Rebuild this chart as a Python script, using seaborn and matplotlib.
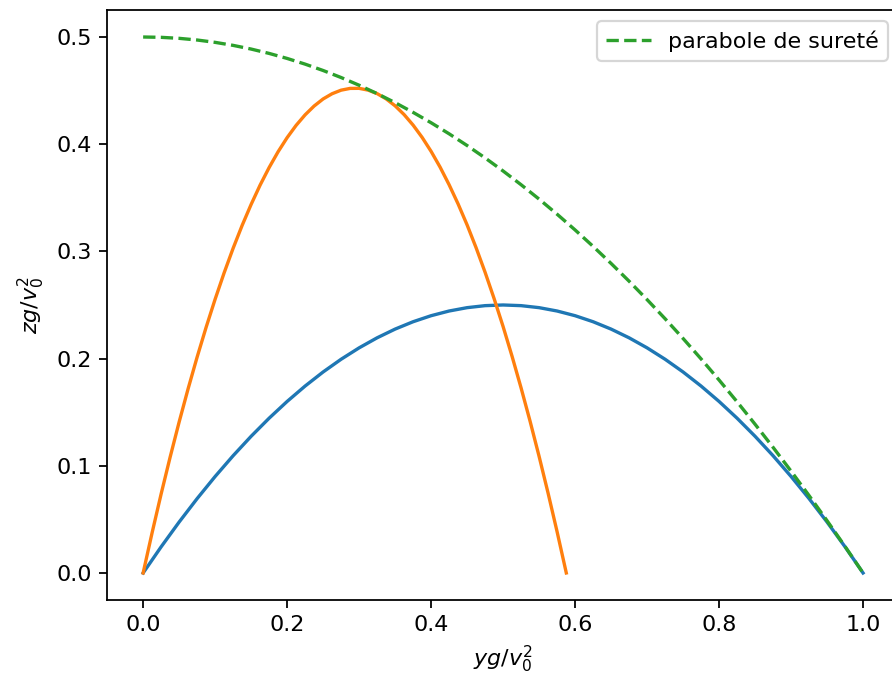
import matplotlib
matplotlib.use("Agg")
import matplotlib.pyplot as plt
import seaborn as sns

# trajectory at 45 deg
y_blue = [0.0, 0.025, 0.05, 0.075, 0.10, 0.125, 0.15, 0.175, 0.20, 0.225, 0.25,
          0.275, 0.30, 0.325, 0.35, 0.375, 0.40, 0.425, 0.45, 0.475, 0.50,
          0.525, 0.55, 0.575, 0.60, 0.625, 0.65, 0.675, 0.70, 0.725, 0.75,
          0.775, 0.80, 0.825, 0.85, 0.875, 0.90, 0.925, 0.95, 0.975, 1.0]
z_blue = [0.0, 0.024375, 0.0475, 0.069375, 0.09, 0.109375, 0.1275, 0.144375, 0.16, 0.174375, 0.1875,
          0.199375, 0.21, 0.219375, 0.2275, 0.234375, 0.24, 0.244375, 0.2475, 0.249375, 0.25,
          0.249375, 0.2475, 0.244375, 0.24, 0.234375, 0.2275, 0.219375, 0.21, 0.199375, 0.1875,
          0.174375, 0.16, 0.144375, 0.1275, 0.109375, 0.09, 0.069375, 0.0475, 0.024375, 0.0]

# steeper trajectory
y_orange = [0.0, 0.0125, 0.025, 0.0375, 0.05, 0.0625, 0.075, 0.0875, 0.10, 0.1125, 0.125,
            0.1375, 0.15, 0.1625, 0.175, 0.1875, 0.20, 0.2125, 0.225, 0.2375, 0.25,
            0.2625, 0.275, 0.2875, 0.30, 0.3125, 0.325, 0.3375, 0.35, 0.3625, 0.375,
            0.3875, 0.40, 0.4125, 0.425, 0.4375, 0.45, 0.4625, 0.475, 0.4875, 0.50,
            0.5125, 0.525, 0.5375, 0.55, 0.5625, 0.575, 0.5878]
z_orange = [0.0, 0.03765, 0.0737, 0.10805, 0.1408, 0.1719, 0.2014, 0.22921, 0.2554, 0.27997, 0.3029,
            0.32419, 0.3438, 0.36186, 0.3782, 0.39298, 0.4061, 0.41757, 0.4274, 0.4356, 0.4422,
            0.44709, 0.4504, 0.45204, 0.4521, 0.45044, 0.4472, 0.4423, 0.4358, 0.42761, 0.4178,
            0.40637, 0.3933, 0.37859, 0.3622, 0.34427, 0.3247, 0.3034, 0.2805, 0.25598, 0.2299,
            0.20203, 0.1726, 0.14152, 0.1088, 0.07447, 0.0385, 0.0]

# safety parabola
y_green = [0.0, 0.025, 0.05, 0.075, 0.10, 0.125, 0.15, 0.175, 0.20, 0.225, 0.25,
           0.275, 0.30, 0.325, 0.35, 0.375, 0.40, 0.425, 0.45, 0.475, 0.50,
           0.525, 0.55, 0.575, 0.60, 0.625, 0.65, 0.675, 0.70, 0.725, 0.75,
           0.775, 0.80, 0.825, 0.85, 0.875, 0.90, 0.925, 0.95, 0.975, 1.0]
z_green = [0.5, 0.4996875, 0.49875, 0.4971875, 0.495, 0.4921875, 0.48875, 0.4846875, 0.48, 0.4746875, 0.46875,
           0.4621875, 0.455, 0.4471875, 0.43875, 0.4296875, 0.42, 0.4096875, 0.39875, 0.3871875, 0.375,
           0.3621875, 0.34875, 0.3346875, 0.32, 0.3046875, 0.28875, 0.2721875, 0.255, 0.2371875, 0.21875,
           0.1996875, 0.18, 0.1596875, 0.13875, 0.1171875, 0.095, 0.0721875, 0.04875, 0.0246875, 0.0]

fig, ax = plt.subplots(figsize=(5.58, 4.25), dpi=160)
fig.subplots_adjust(left=0.12, right=1.007, top=0.985, bottom=0.118)

sns.lineplot(x=y_blue, y=z_blue, ax=ax, color="C0", sort=False)
sns.lineplot(x=y_orange, y=z_orange, ax=ax, color="C1", sort=False)
sns.lineplot(x=y_green, y=z_green, ax=ax, color="C2", sort=False,
             linestyle="--", label="parabole de sureté")

ax.set_xlabel(r"$yg/v_0^2$")
ax.set_ylabel(r"$zg/v_0^2$")
ax.legend(loc="upper right")

fig.savefig("out.png", dpi=160)
